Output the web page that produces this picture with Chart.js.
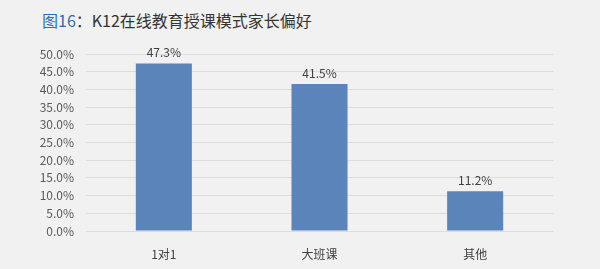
<!DOCTYPE html>
<html>
<head>
<meta charset="utf-8">
<script src="https://cdn.jsdelivr.net/npm/chart.js@4/dist/chart.umd.min.js"></script>
<style>
  html, body { margin:0; padding:0; background:#f1f1f1; }
  #wrap { position:relative; width:600px; height:269px; }
  #title { position:absolute; left:42px; top:8px; font:16px "Noto Sans CJK SC", sans-serif; color:#333; white-space:nowrap; }
  #title .fig { color:#2f6db5; }
  canvas { position:absolute; left:0; top:0; }
</style>
</head>
<body>
<div id="wrap">
  <div id="title"><span class="fig">图16</span>：K12在线教育授课模式家长偏好</div>
  <canvas id="c" width="600" height="269"></canvas>
</div>
<script>
const categories = ['1对1', '大班课', '其他'];
const shares = [47.3, 41.5, 11.2];
const yTicks = [0, 5, 10, 15, 20, 25, 30, 35, 40, 45, 50];

const FONT = '"Noto Sans CJK SC", sans-serif';

// value labels above each bar
const barLabels = {
  id: 'barLabels',
  afterDatasetsDraw(chart) {
    const ctx = chart.ctx;
    const meta = chart.getDatasetMeta(0);
    ctx.save();
    ctx.font = '12px ' + FONT;
    ctx.fillStyle = '#404040';
    ctx.textAlign = 'center';
    ctx.textBaseline = 'bottom';
    meta.data.forEach((bar, i) => {
      ctx.fillText(shares[i].toFixed(1) + '%', bar.x, bar.y - 5);
    });
    ctx.restore();
  }
};

new Chart(document.getElementById('c'), {
  type: 'bar',
  data: {
    labels: categories,
    datasets: [{ data: shares, backgroundColor: '#5b84ba', barPercentage: 0.36, categoryPercentage: 1 }]
  },
  options: {
    responsive: false,
    animation: false,
    layout: { padding: { top: 54, right: 47, left: 0, bottom: 0 } },
    plugins: { legend: { display: false }, tooltip: { enabled: false } },
    scales: {
      x: {
        grid: { display: false },
        border: { display: false },
        ticks: { color: '#404040', font: { family: FONT, size: 12 }, padding: 8 },
        afterFit: s => { s.height = 38; }
      },
      y: {
        min: 0, max: 50,
        afterBuildTicks: s => { s.ticks = yTicks.map(v => ({ value: v })); },
        grid: { color: '#dcdcdc', drawTicks: false },
        border: { display: false },
        ticks: { color: '#595959', font: { family: FONT, size: 12 }, padding: 12,
                 callback: v => v.toFixed(1) + '%' },
        afterFit: s => { s.width = 86; }
      }
    }
  },
  plugins: [barLabels]
});
</script>
</body>
</html>
